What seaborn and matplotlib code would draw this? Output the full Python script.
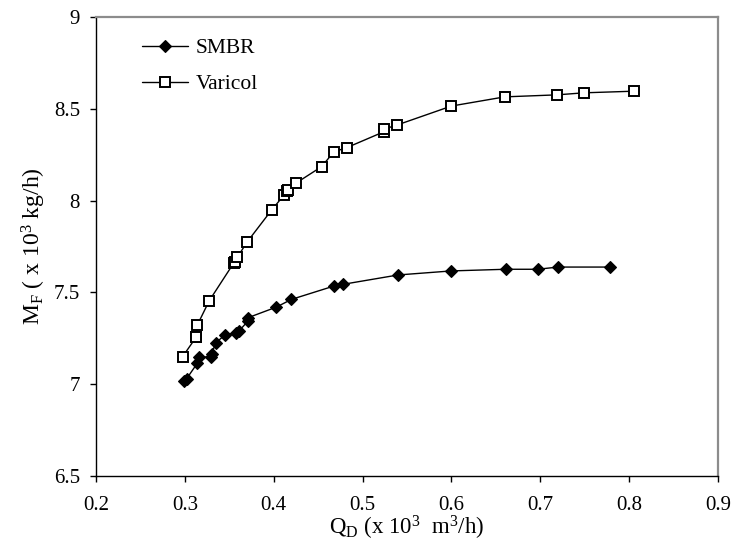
import matplotlib
matplotlib.use("Agg")
import matplotlib.pyplot as plt
import seaborn as sns
import pandas as pd

smbr_x = [0.299, 0.302, 0.314, 0.316, 0.329, 0.330, 0.335, 0.345, 0.358, 0.361, 0.371, 0.371,
          0.403, 0.420, 0.468, 0.478, 0.540, 0.600, 0.661, 0.697, 0.720, 0.778]
smbr_y = [7.017, 7.03, 7.114, 7.146, 7.15, 7.165, 7.226, 7.268, 7.28, 7.29, 7.344, 7.362,
          7.42, 7.462, 7.535, 7.544, 7.595, 7.617, 7.626, 7.626, 7.638, 7.638]

varicol_x = [0.2975, 0.3125, 0.313, 0.314, 0.3275, 0.355, 0.356, 0.359, 0.370, 0.3977, 0.4116,
             0.415, 0.416, 0.4247, 0.4539, 0.4678, 0.482, 0.524, 0.5245, 0.539, 0.600, 0.660,
             0.719, 0.749, 0.806]
varicol_y = [7.15, 7.255, 7.259, 7.322, 7.455, 7.66, 7.667, 7.691, 7.774, 7.949, 8.03,
             8.054, 8.058, 8.094, 8.185, 8.266, 8.288, 8.375, 8.39, 8.412, 8.515, 8.565,
             8.576, 8.587, 8.596]

x_ticks = [0.2, 0.3, 0.4, 0.5, 0.6, 0.7, 0.8, 0.9]
y_ticks = [6.5, 7, 7.5, 8, 8.5, 9]

sns.set_theme(style="white")
plt.rcParams['font.family'] = ['Liberation Serif', 'DejaVu Serif']
plt.rcParams['mathtext.fontset'] = 'custom'
plt.rcParams['mathtext.rm'] = 'Liberation Serif'
plt.rcParams['mathtext.it'] = 'Liberation Serif:italic'

W, H = 734, 556
fig = plt.figure(figsize=(W / 100, H / 100), dpi=100)
ax = fig.add_axes([96 / W, 1 - 476 / H, (718 - 96) / W, (476 - 17) / H])

df_s = pd.DataFrame({"x": smbr_x, "y": smbr_y})
df_v = pd.DataFrame({"x": varicol_x, "y": varicol_y})

sns.lineplot(data=df_s, x="x", y="y", estimator=None, sort=False, ax=ax,
             color="black", lw=1.0, marker="D", ms=6.5, mfc="black", mec="black",
             mew=0.8, label="SMBR")
sns.lineplot(data=df_v, x="x", y="y", estimator=None, sort=False, ax=ax,
             color="black", lw=1.0, marker="s", ms=6.5, mfc="white", mec="black",
             mew=1.4, label="Varicol")

ax.set_xlim(0.2, 0.9)
ax.set_ylim(6.5, 9)
ax.set_xticks(x_ticks)
ax.set_xticklabels([f"{v:g}" for v in x_ticks])
ax.set_yticks(y_ticks)
ax.set_yticklabels([f"{v:g}" for v in y_ticks])
ax.tick_params(axis="both", which="major", direction="out", length=4.5, width=1,
               color="black", labelsize=15, labelcolor="black",
               bottom=True, left=True)
ax.tick_params(axis="x", pad=10)
ax.tick_params(axis="y", pad=7)

for side in ["left", "bottom"]:
    ax.spines[side].set_color("black")
    ax.spines[side].set_linewidth(1.0)
for side in ["top", "right"]:
    ax.spines[side].set_color("#8c8c8c")
    ax.spines[side].set_linewidth(1.6)

ax.set_xlabel(r"Q$_\mathrm{D}$ (x 10$^3$  m$^3$/h)", fontsize=16.5, color="black", labelpad=-1)
ax.set_ylabel(r"M$_\mathrm{F}$ ( x 10$^3$ kg/h)", fontsize=17, color="black", labelpad=4)

leg = ax.legend(loc="upper left", bbox_to_anchor=(142 / W, 1 - 38 / H),
                bbox_transform=fig.transFigure, frameon=False, fontsize=15.5,
                handlelength=2.14, handletextpad=0.35, labelspacing=0.75,
                borderpad=0, borderaxespad=0)
for t in leg.get_texts():
    t.set_color("black")

fig.savefig("out.png", dpi=100, facecolor="white")
